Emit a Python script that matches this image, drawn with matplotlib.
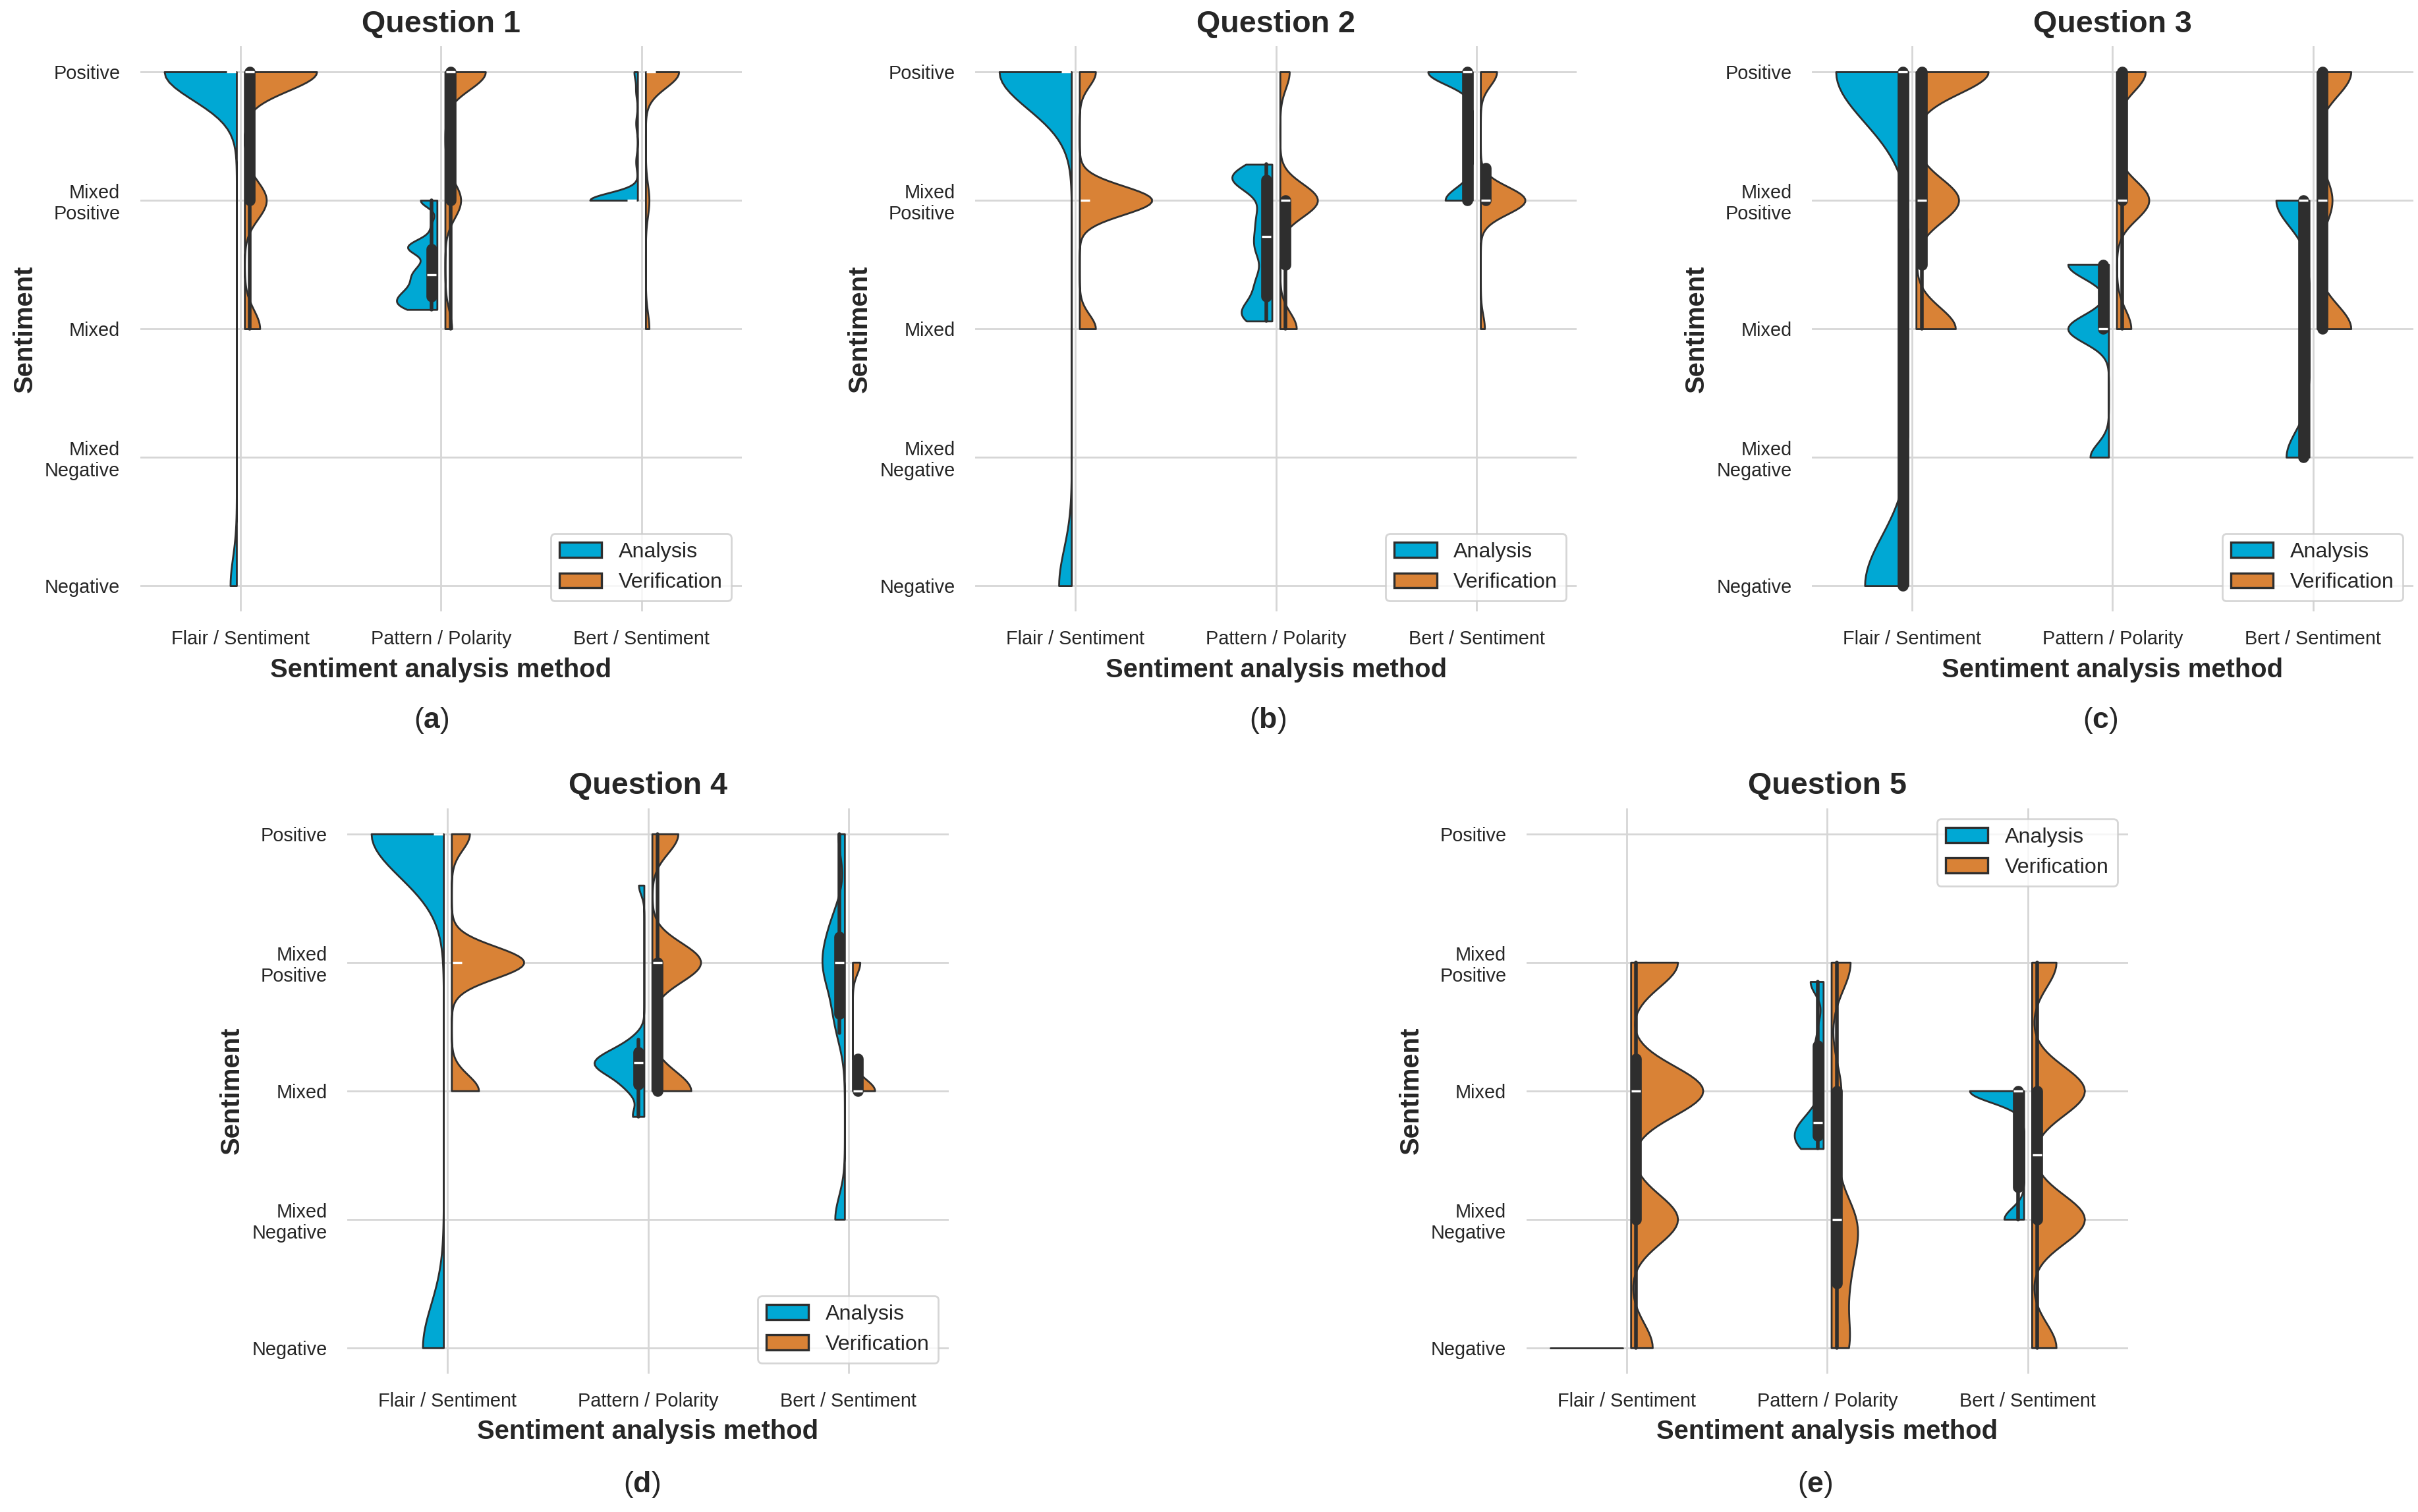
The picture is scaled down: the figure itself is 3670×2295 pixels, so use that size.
import numpy as np
import pandas as pd
import matplotlib
matplotlib.use('Agg')
import matplotlib.pyplot as plt
from matplotlib.patches import Patch
import seaborn as sns

methods = ['Flair / Sentiment', 'Pattern / Polarity', 'Bert / Sentiment']
groups = ['Analysis', 'Verification']
sentiment_ticks = [0, 1, 2, 3, 4]
sentiment_labels = ['Negative', 'Mixed\nNegative', 'Mixed', 'Mixed\nPositive', 'Positive']
colors = ['#00A8D4', '#D98236']
line_color = '#2e2e2e'

# sentiment value -> number of answers, for each (method, group)
# 0 = Negative ... 4 = Positive
q1 = {
    ('Flair / Sentiment', 'Analysis'): {4: 46, 0: 4},
    ('Pattern / Polarity', 'Analysis'): {3.0: 3, 2.8: 1, 2.68: 2, 2.62: 4, 2.5: 2, 2.42: 3,
                                         2.35: 2, 2.3: 2, 2.25: 3, 2.2: 3, 2.15: 3},
    ('Bert / Sentiment', 'Analysis'): {4: 2, 3.85: 1, 3.6: 1, 3.3: 1, 3: 28},
    ('Flair / Sentiment', 'Verification'): {4: 33, 3: 10, 2: 7},
    ('Pattern / Polarity', 'Verification'): {4: 18, 3: 7, 2: 3},
    ('Bert / Sentiment', 'Verification'): {4: 19, 3: 2, 2: 2},
}
q2 = {
    ('Flair / Sentiment', 'Analysis'): {4: 40, 0: 7},
    ('Pattern / Polarity', 'Analysis'): {3.28: 2, 3.18: 5, 3.1: 2, 2.98: 1, 2.86: 2, 2.72: 2,
                                         2.6: 2, 2.45: 1, 2.35: 2, 2.22: 2, 2.12: 3, 2.06: 2},
    ('Bert / Sentiment', 'Analysis'): {4: 18, 3: 11},
    ('Flair / Sentiment', 'Verification'): {4: 8, 3: 36, 2: 8},
    ('Pattern / Polarity', 'Verification'): {4: 4, 3: 16, 2: 7},
    ('Bert / Sentiment', 'Verification'): {4: 8, 3: 22, 2: 2},
}
q3 = {
    ('Flair / Sentiment', 'Analysis'): {4: 30, 0: 18},
    ('Pattern / Polarity', 'Analysis'): {2.5: 11, 2.0: 11, 1.0: 5},
    ('Bert / Sentiment', 'Analysis'): {3: 13, 1: 9},
    ('Flair / Sentiment', 'Verification'): {4: 22, 3: 13, 2: 12},
    ('Pattern / Polarity', 'Verification'): {4: 8, 3: 9, 2: 4},
    ('Bert / Sentiment', 'Verification'): {4: 9, 3: 4, 2: 9},
}
q4 = {
    ('Flair / Sentiment', 'Analysis'): {4: 45, 0: 13},
    ('Pattern / Polarity', 'Analysis'): {3.6: 2, 2.4: 3, 2.3: 7, 2.22: 10, 2.15: 7, 2.05: 5,
                                         1.95: 2, 1.8: 4},
    ('Bert / Sentiment', 'Analysis'): {4: 2, 3.35: 2, 3.2: 2, 3.0: 4, 2.85: 2, 2.6: 2,
                                       2.45: 1, 1.0: 3},
    ('Flair / Sentiment', 'Verification'): {4: 8, 3: 32, 2: 12},
    ('Pattern / Polarity', 'Verification'): {4: 8, 3: 15, 2: 12},
    ('Bert / Sentiment', 'Verification'): {3: 4, 2: 12},
}
q5 = {
    ('Flair / Sentiment', 'Analysis'): {0: 40},
    ('Pattern / Polarity', 'Analysis'): {2.85: 3, 2.5: 1, 2.3: 2, 1.9: 1, 1.75: 3, 1.65: 3,
                                         1.55: 3},
    ('Bert / Sentiment', 'Analysis'): {2: 22, 1: 8},
    ('Flair / Sentiment', 'Verification'): {3: 13, 2: 20, 1: 13, 0: 6},
    ('Pattern / Polarity', 'Verification'): {3: 4, 2.0: 2, 1.5: 1, 1.0: 4, 0.75: 2, 0.5: 2,
                                             0.25: 1, 0: 3},
    ('Bert / Sentiment', 'Verification'): {3: 6, 2: 13, 1: 13, 0: 6},
}


def to_frame(counts):
    parts = []
    for (method, group), vc in counts.items():
        vals = np.repeat(list(vc.keys()), list(vc.values())).astype(float)
        parts.append(pd.DataFrame({'method': method, 'group': group, 'value': vals}))
    return pd.concat(parts, ignore_index=True)


sns.set_style('whitegrid')
plt.rcParams['font.family'] = ['Liberation Sans', 'DejaVu Sans']
plt.rcParams['mathtext.fontset'] = 'custom'
plt.rcParams['mathtext.rm'] = 'Liberation Sans'
plt.rcParams['mathtext.bf'] = 'Liberation Sans:bold'

fig = plt.figure(figsize=(18.35, 11.475), dpi=200)

# data, title, caption letter, axes rect, legend loc, caption position
panels = [
    (q1, 'Question 1', 'a', [0.0580, 0.5956, 0.2488, 0.3739], 'lower right', (0.1785, 0.5237)),
    (q2, 'Question 2', 'b', [0.4033, 0.5956, 0.2488, 0.3739], 'lower right', (0.5243, 0.5237)),
    (q3, 'Question 3', 'c', [0.7493, 0.5956, 0.2488, 0.3739], 'lower right', (0.8687, 0.5237)),
    (q4, 'Question 4', 'd', [0.1436, 0.0916, 0.2488, 0.3739], 'lower right', (0.2654, 0.0179)),
    (q5, 'Question 5', 'e', [0.6313, 0.0916, 0.2488, 0.3739], 'upper right', (0.7507, 0.0179)),
]

for data, title, letter, rect, loc, cap in panels:
    ax = fig.add_axes(rect)
    df = to_frame(data)
    sns.violinplot(data=df, x='method', y='value', hue='group',
                   order=methods, hue_order=groups, split=True, gap=0.1,
                   inner='box', cut=0, density_norm='count', bw_method=0.2,
                   palette=colors, saturation=1, linewidth=1.0,
                   linecolor=line_color, inner_kws={'box_width': 6},
                   legend=False, ax=ax)

    ax.grid(True, color='#d6d6d6', linewidth=1.0)
    ax.set_axisbelow(True)
    for s in ax.spines.values():
        s.set_visible(False)
    ax.set_xlim(-0.5, 2.5)
    ax.set_ylim(-0.2, 4.2)
    ax.set_yticks(sentiment_ticks)
    ax.set_yticklabels(sentiment_labels)
    ax.tick_params(axis='x', length=0, pad=10, labelsize=10.4)
    ax.tick_params(axis='y', length=0, pad=11, labelsize=10.4)

    ax.set_title(title, fontsize=16.8, fontweight='bold', pad=7.7)
    ax.set_xlabel('Sentiment analysis method', fontsize=14.4, fontweight='bold',
                  labelpad=5)
    ax.set_ylabel('Sentiment', fontsize=14.4, fontweight='bold')

    handles = [Patch(facecolor=c, edgecolor=line_color, linewidth=1.2, label=g)
               for c, g in zip(colors, groups)]
    ax.legend(handles=handles, loc=loc, fontsize=11.6, frameon=True)

    fig.text(cap[0], cap[1], r'($\mathbf{' + letter + '}$)', ha='center', va='center',
             fontsize=16)

fig.savefig('out.png', dpi=200)
